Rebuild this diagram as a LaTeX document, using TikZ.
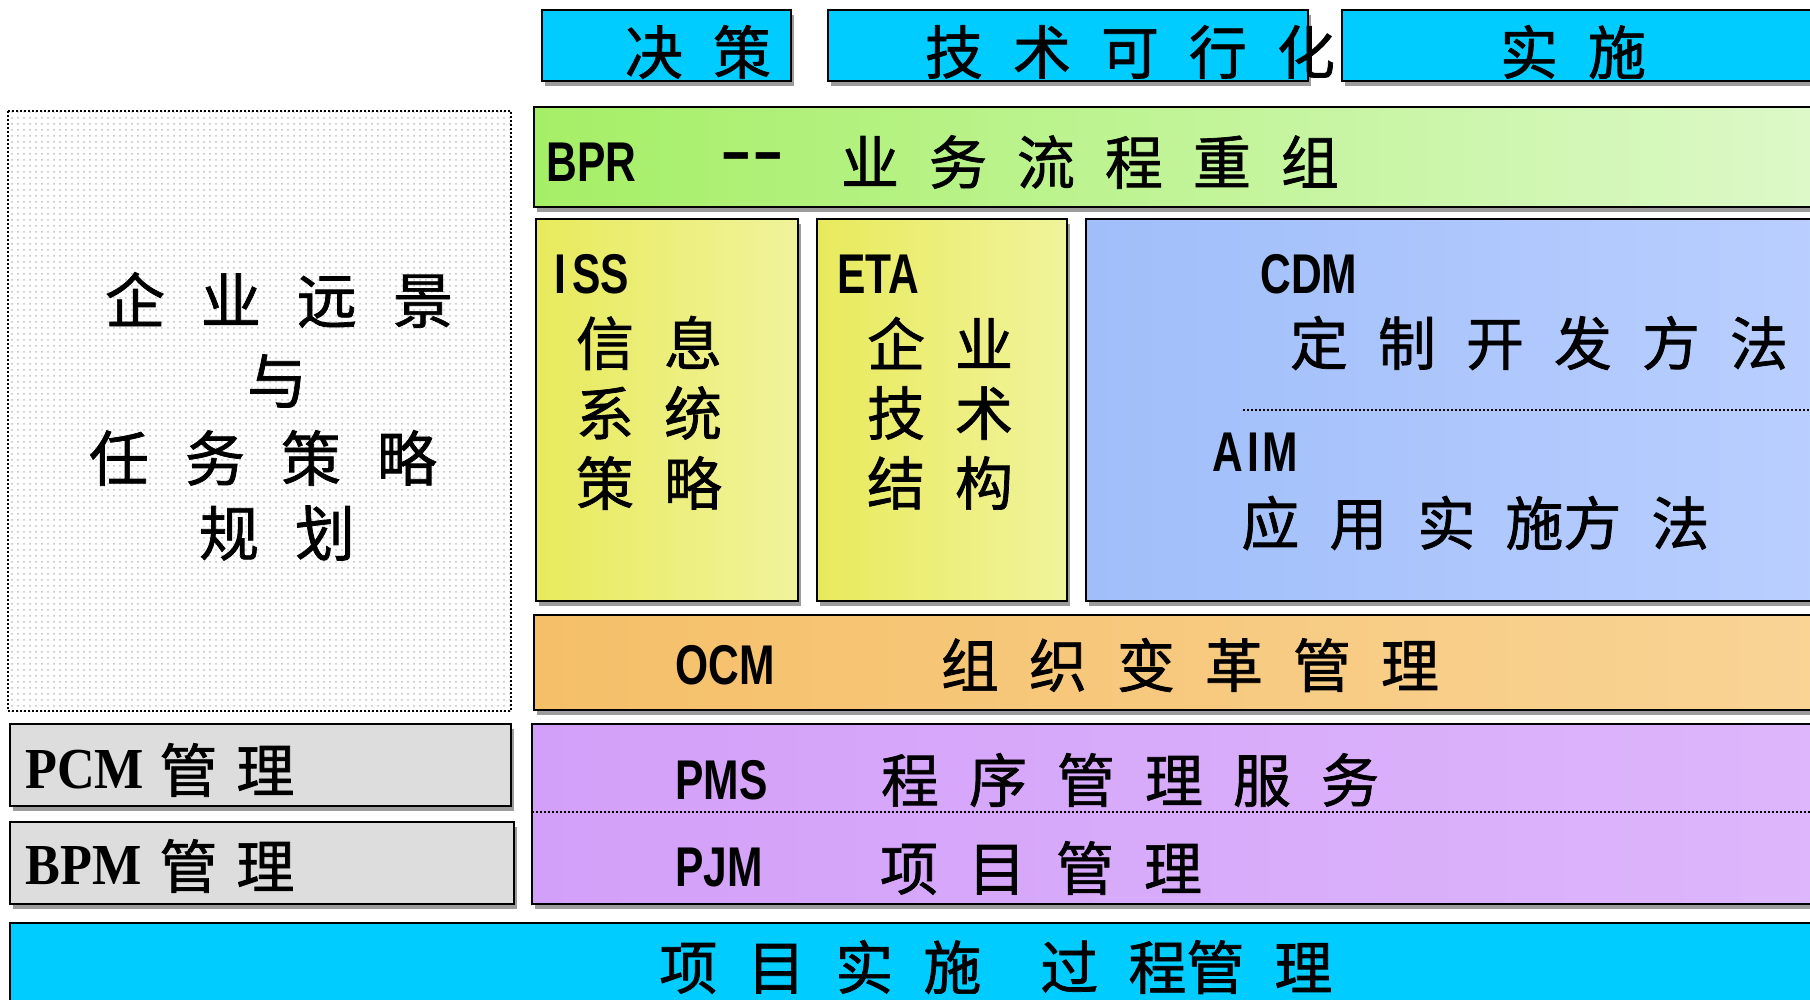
\documentclass[tikz,border=0pt]{standalone}
\usepackage{fontspec}
\setmainfont{Liberation Serif}
\newfontfamily\cjk[FakeBold=1.2]{Noto Sans CJK SC}
\newfontfamily\latn[FakeStretch=0.76]{Liberation Sans}
\newfontfamily\latw[FakeStretch=1.7]{Liberation Sans}
\newfontfamily\serf[FakeStretch=0.9]{Liberation Serif}
\usetikzlibrary{shadows,patterns}
\definecolor{cyanC}{HTML}{00CCFF}
\definecolor{greenL}{HTML}{A5EF66}
\definecolor{greenR}{HTML}{DDF9C9}
\definecolor{yelL}{HTML}{E8EA5C}
\definecolor{yelR}{HTML}{F1F39C}
\definecolor{bluL}{HTML}{A0BEFA}
\definecolor{bluR}{HTML}{BACFFF}
\definecolor{oraL}{HTML}{F5BF68}
\definecolor{oraR}{HTML}{F9D496}
\definecolor{purL}{HTML}{D3A0F9}
\definecolor{purR}{HTML}{DDB6FB}
\definecolor{greyB}{HTML}{DDDDDD}
\newcommand\gp{\hspace{15pt}}
\newcommand\gq{\hspace{18pt}}
\tikzset{
  boxline/.style={draw=black, line width=1pt},
  shad/.style={drop shadow={shadow xshift=1.5pt, shadow yshift=-2.5pt, opacity=0.55, fill=black!70}},
  cyanbox/.style={boxline, shad, fill=cyanC},
  greenbox/.style={boxline, shad, left color=greenL, right color=greenR},
  yelbox/.style={boxline, shad, left color=yelL, right color=yelR},
  blubox/.style={boxline, shad, left color=bluL, right color=bluR},
  orabox/.style={boxline, shad, left color=oraL, right color=oraR},
  purbox/.style={boxline, shad, left color=purL, right color=purR},
  greybox/.style={boxline, shad, fill=greyB},
  sepline/.style={densely dotted, line width=1pt},
  cj/.style={font=\cjk\fontsize{29}{29}\selectfont, inner sep=0pt},
  cjb/.style={font=\cjk\fontsize{30}{30}\selectfont, inner sep=0pt},
  lt/.style={font=\latn\bfseries\fontsize{28}{28}\selectfont, inner sep=0pt, anchor=west},
  sf/.style={font=\serf\bfseries\fontsize{29}{29}\selectfont, inner sep=0pt, anchor=west},
}
\begin{document}
\begin{tikzpicture}[x=0.5pt,y=-0.5pt]
\clip (0,0) rectangle (1810,1000);
\fill[white] (0,0) rectangle (1810,1000);

% top row
\path[cyanbox] (542,10) rectangle (791,81);
\path[cyanbox] (828,10) rectangle (1308,81);
\path[cyanbox] (1342,10) rectangle (1830,81);
\node[cj] (jc) at (698,52) {决\gp{}策};
\node[cj] (jskx) at (1130,52) {技\gp{}术\gp{}可\gp{}行\gp{}化};
\node[cj] (ss) at (1573,52) {实\gp{}施};

% left dotted box
\path[preaction={fill=white}, pattern=dots, pattern color=black!25] (8,111) rectangle (511,711);
\draw[sepline] (8,111) rectangle (511,711);
\node[cjb] (l1) at (279,300) {企\gq{}业\gq{}远\gq{}景};
\node[cjb] (l2) at (277,381) {与};
\node[cjb] (l3) at (263,458) {任\gq{}务\gq{}策\gq{}略};
\node[cjb] (l4) at (277,533) {规\gq{}划};

% BPR
\path[greenbox] (534,107) rectangle (1830,207);
\node[lt] (bpr) at (546,162) {BPR};
\node[font=\latw\bfseries\fontsize{28}{28}\selectfont, inner sep=0pt] (dash) at (752,162) {-{}-};
\node[cj] (bprc) at (1090,162) {业\gp{}务\gp{}流\gp{}程\gp{}重\gp{}组};

% ISS
\path[yelbox] (536,219) rectangle (798,601);
\node[lt] (iss) at (554,274) {I\kern3pt SS};
\node[cj] (iss1) at (649,343) {信\gp{}息};
\node[cj] (iss2) at (649,413) {系\gp{}统};
\node[cj] (iss3) at (649,483) {策\gp{}略};

% ETA
\path[yelbox] (817,219) rectangle (1067,601);
\node[lt] (eta) at (837,274) {ETA};
\node[cj] (eta1) at (940,343) {企\gp{}业};
\node[cj] (eta2) at (940,413) {技\gp{}术};
\node[cj] (eta3) at (940,483) {结\gp{}构};

% CDM / AIM
\path[blubox] (1086,219) rectangle (1830,601);
\node[lt] (cdm) at (1260,274) {CDM};
\node[cj] (cdmc) at (1539,343) {定\gp{}制\gp{}开\gp{}发\gp{}方\gp{}法};
\coordinate (d1a) at (1243,410);
\coordinate (d1b) at (1830,410);
\draw[sepline] (d1a) -- (d1b);
\node[lt] (aim) at (1212,452) {A\kern2pt I\kern2pt M};
\node[cj, anchor=west] (aimc) at (1241,523) {应\gp{}用\gp{}实\gp{}施方\gp{}法};

% OCM
\path[orabox] (534,615) rectangle (1830,710);
\node[lt] (ocm) at (675,665) {OCM};
\node[cj] (ocmc) at (1190,665) {组\gp{}织\gp{}变\gp{}革\gp{}管\gp{}理};

% PCM / BPM
\path[greybox] (10,724) rectangle (511,806);
\node[sf] (pcm) at (25,770) {PCM};
\node[cj, anchor=west] (pcmc) at (159,770) {管\hspace{9.5pt}理};
\path[greybox] (10,822) rectangle (514,904);
\node[sf] (bpm) at (25,866) {BPM};
\node[cj, anchor=west] (bpmc) at (159,866) {管\hspace{9.5pt}理};

% PMS / PJM
\path[purbox] (532,724) rectangle (1830,904);
\coordinate (d2a) at (532,812);
\coordinate (d2b) at (1830,812);
\draw[sepline] (d2a) -- (d2b);
\node[lt] (pms) at (675,780) {PMS};
\node[cj] (pmsc) at (1130,780) {程\gp{}序\gp{}管\gp{}理\gp{}服\gp{}务};
\node[lt] (pjm) at (675,868) {PJM};
\node[cj] (pjmc) at (1041,868) {项\gp{}目\gp{}管\gp{}理};

% bottom
\path[cyanbox] (10,923) rectangle (1830,1030);
\node[cj, anchor=west] (bot) at (659,967) {项\gp{}目\gp{}实\gp{}施\hspace{29.5pt}过\gp{}程管\gp{}理};
\end{tikzpicture}
\end{document}
